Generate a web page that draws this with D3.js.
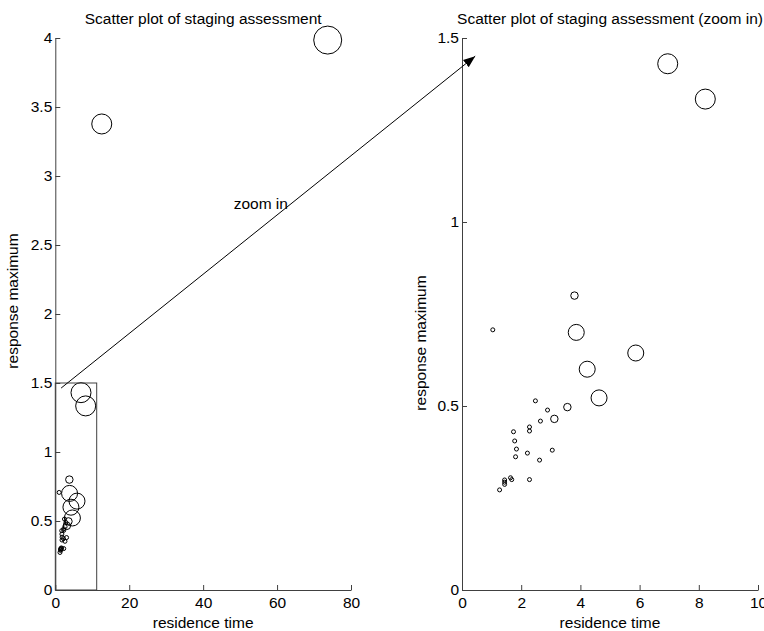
<!DOCTYPE html>
<html>
<head>
<meta charset="utf-8">
<script src="https://cdn.jsdelivr.net/npm/d3@7"></script>
<style>
  body { margin: 0; background: #fff; }
  svg { font-family: "Liberation Sans", Arial, sans-serif; }
  .axis path, .axis line { stroke: #404040; }
  .axis text { fill: #000; font-size: 15.5px; }
</style>
</head>
<body>
<div id="chart"></div>
<script>
// residence time, response maximum, marker weight (area)
var residence = [73.7, 12.57, 6.95, 8.22, 3.86, 5.87, 4.23, 4.63, 3.80, 3.56, 3.12,
                 1.04, 2.48, 2.89, 2.65, 2.28, 2.28, 1.74, 1.78, 1.84, 1.81, 2.21,
                 3.05, 2.62, 1.64, 1.68, 1.44, 1.44, 1.44, 2.28, 1.27];
var response  = [3.985, 3.377, 1.43, 1.334, 0.70, 0.644, 0.60, 0.522, 0.80, 0.497, 0.465,
                 0.707, 0.514, 0.489, 0.459, 0.443, 0.432, 0.43, 0.405, 0.383, 0.362, 0.372,
                 0.380, 0.353, 0.305, 0.30, 0.299, 0.293, 0.287, 0.30, 0.272];
var weight    = [196, 100, 100, 100, 64, 64, 64, 64, 14, 14, 14,
                 4, 4, 4, 4, 4, 4, 4, 4, 4, 4, 4,
                 4, 4, 4, 4, 4, 4, 4, 4, 4];

var leftXTicks = [0, 20, 40, 60, 80];
var leftYTicks = [0, 0.5, 1, 1.5, 2, 2.5, 3, 3.5, 4];
var rightXTicks = [0, 2, 4, 6, 8, 10];
var rightYTicks = [0, 0.5, 1, 1.5];

var zoomBox = [0, 0, 11.2, 1.5];   // x0, y0, x1, y1 in left data units
var arrowFrom = [0.080, 0.615];    // normalized figure coords (from top-left)
var arrowTo = [0.622, 0.089];
var zoomLabel = { x: 55.6, y: 2.8, text: "zoom in" };

var W = 764, H = 631;
var svg = d3.select("#chart").append("svg").attr("width", W).attr("height", H);

var pts = residence.map(function(d, i) { return { x: d, y: response[i], w: weight[i] }; });
var rScale = d3.scaleSqrt().domain([0, 196]).range([0, 14]);

function panel(opt) {
    var x = d3.scaleLinear().domain(opt.xdom).range([opt.left, opt.right]);
    var y = d3.scaleLinear().domain(opt.ydom).range([590, 38]);
    var g = svg.append("g");

    var data = pts.filter(function(p) {
        return p.x <= opt.xdom[1] && p.y <= opt.ydom[1];
    });

    g.append("g").attr("class", "axis")
        .attr("transform", "translate(0,590)")
        .call(d3.axisBottom(x).tickValues(opt.xticks).tickSizeInner(-5).tickSizeOuter(0).tickPadding(7)
              .tickFormat(d3.format("")));
    g.append("g").attr("class", "axis")
        .attr("transform", "translate(" + opt.left + ",0)")
        .call(d3.axisLeft(y).tickValues(opt.yticks).tickSizeInner(-5).tickSizeOuter(0).tickPadding(3)
              .tickFormat(d3.format("")));

    g.selectAll("circle.pt").data(data).enter().append("circle")
        .attr("class", "pt")
        .attr("cx", function(d) { return x(d.x); })
        .attr("cy", function(d) { return y(d.y); })
        .attr("r", function(d) { return rScale(d.w); })
        .attr("fill", "none")
        .attr("stroke", "#000")
        .attr("stroke-width", 1);

    g.append("text")
        .attr("x", (opt.left + opt.right) / 2).attr("y", 24)
        .attr("text-anchor", "middle").attr("font-size", 15.5)
        .text(opt.title);
    g.append("text")
        .attr("x", (opt.left + opt.right) / 2).attr("y", 628)
        .attr("text-anchor", "middle").attr("font-size", 15.5)
        .text("residence time");
    g.append("text")
        .attr("transform", "translate(" + opt.ylabX + "," + opt.ylabY + ")rotate(-90)")
        .attr("text-anchor", "middle").attr("font-size", 15.5)
        .text("response maximum");
    return { x: x, y: y, g: g };
}

var L = panel({ left: 55.3, right: 351, xdom: [0, 80], ydom: [0, 4],
                xticks: leftXTicks, yticks: leftYTicks, ylabX: 18, ylabY: 301,
                title: "Scatter plot of staging assessment" });
var R = panel({ left: 462, right: 758, xdom: [0, 10], ydom: [0, 1.5],
                xticks: rightXTicks, yticks: rightYTicks, ylabX: 426, ylabY: 343,
                title: "Scatter plot of staging assessment (zoom in)" });

// zoom window on the left panel
L.g.append("rect")
    .attr("x", L.x(zoomBox[0])).attr("y", L.y(zoomBox[3]))
    .attr("width", L.x(zoomBox[2]) - L.x(zoomBox[0]))
    .attr("height", L.y(zoomBox[1]) - L.y(zoomBox[3]))
    .attr("fill", "none").attr("stroke", "#404040").attr("stroke-width", 1);

L.g.append("text")
    .attr("x", L.x(zoomLabel.x)).attr("y", L.y(zoomLabel.y) + 5)
    .attr("text-anchor", "middle").attr("font-size", 15.5)
    .text(zoomLabel.text);

// arrow annotation
var defs = svg.append("defs");
defs.append("marker")
    .attr("id", "head").attr("viewBox", "0 0 10 10")
    .attr("refX", 10).attr("refY", 5)
    .attr("markerWidth", 12).attr("markerHeight", 12)
    .attr("markerUnits", "userSpaceOnUse")
    .attr("orient", "auto")
  .append("path").attr("d", "M0,1.2L10,5L0,8.8Z").attr("fill", "#000");

svg.append("line")
    .attr("x1", arrowFrom[0] * W).attr("y1", arrowFrom[1] * H)
    .attr("x2", arrowTo[0] * W).attr("y2", arrowTo[1] * H)
    .attr("stroke", "#000").attr("stroke-width", 1)
    .attr("marker-end", "url(#head)");
</script>
</body>
</html>
